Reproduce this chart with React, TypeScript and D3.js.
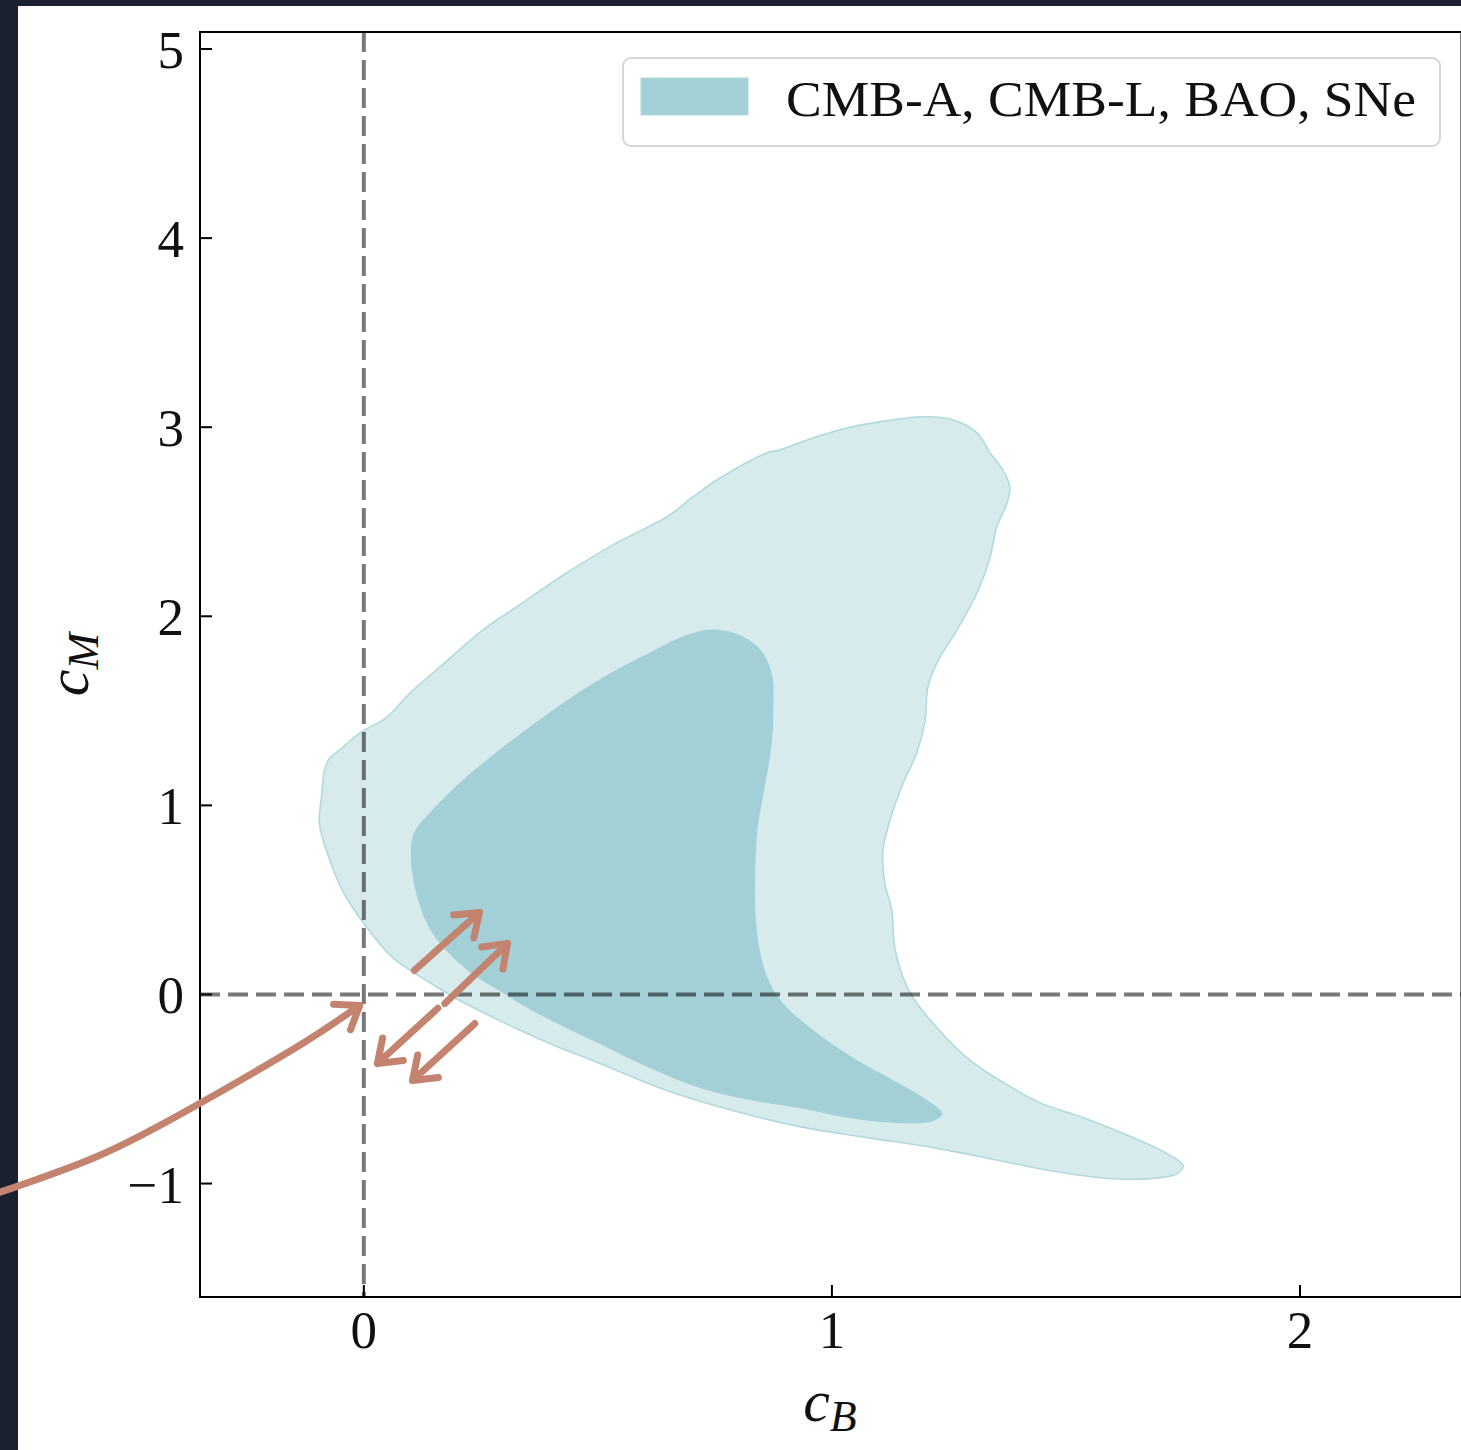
import React from "react";
import * as d3 from "d3";

// Axis setup
const xTicks = [0, 1, 2];
const yTicks = [-1, 0, 1, 2, 3, 4, 5];
const xDomain = [-0.35, 2.345];
const yDomain = [-1.6, 5.09];
const legendLabel = "CMB-A, CMB-L, BAO, SNe";

// Outer (95%) credible region boundary, c_B values
const outerCB = [
  0.889, 0.959, 1.032, 1.102, 1.194, 1.258, 1.31, 1.338, 1.365, 1.38, 1.374, 1.352,
  1.338, 1.31, 1.267, 1.224, 1.205, 1.199, 1.181, 1.152, 1.124, 1.109, 1.113, 1.128,
  1.134, 1.152, 1.173, 1.224, 1.288, 1.359, 1.444, 1.536, 1.643, 1.716, 1.75, 1.737,
  1.68, 1.573, 1.466, 1.359, 1.216, 1.075, 0.931, 0.788, 0.647, 0.504, 0.397, 0.29,
  0.205, 0.134, 0.061, 0.006, -0.046, -0.08, -0.095, -0.09, -0.084, -0.073, -0.052,
  -0.009, 0.049, 0.098, 0.162, 0.254, 0.326, 0.433, 0.54, 0.647, 0.703, 0.754, 0.861,
];
// Outer (95%) credible region boundary, c_M values
const outerCM = [
  2.88, 2.943, 2.996, 3.028, 3.055, 3.039, 2.97, 2.864, 2.774, 2.684, 2.599, 2.472,
  2.313, 2.123, 1.927, 1.752, 1.625, 1.45, 1.276, 1.117, 0.921, 0.762, 0.588, 0.445,
  0.249, 0.09, -0.016, -0.175, -0.334, -0.455, -0.572, -0.651, -0.757, -0.842, -0.905,
  -0.948, -0.974, -0.969, -0.932, -0.879, -0.81, -0.757, -0.699, -0.614, -0.508,
  -0.365, -0.259, -0.138, -0.032, 0.074, 0.196, 0.355, 0.551, 0.762, 0.905, 1.053,
  1.186, 1.249, 1.292, 1.382, 1.466, 1.593, 1.731, 1.927, 2.049, 2.229, 2.388, 2.525,
  2.631, 2.721, 2.864,
];

// Inner (68%) credible region boundary, c_B values
const innerCB = [
  0.745, 0.81, 0.852, 0.872, 0.874, 0.872, 0.863, 0.85, 0.839, 0.835, 0.839, 0.861,
  0.895, 0.968, 1.053, 1.13, 1.203, 1.235, 1.216, 1.145, 1.038, 0.931, 0.825, 0.718,
  0.611, 0.504, 0.433, 0.361, 0.29, 0.232, 0.177, 0.14, 0.113, 0.102, 0.108, 0.147,
  0.205, 0.29, 0.326, 0.397, 0.468, 0.54, 0.611, 0.681,
];
// Inner (68%) credible region boundary, c_M values
const innerCM = [
  1.927, 1.89, 1.805, 1.678, 1.556, 1.382, 1.202, 1.027, 0.852, 0.588, 0.323, 0.09,
  -0.048, -0.206, -0.349, -0.455, -0.561, -0.63, -0.667, -0.678, -0.651, -0.598,
  -0.556, -0.492, -0.386, -0.259, -0.175, -0.085, 0.021, 0.111, 0.233, 0.355, 0.535,
  0.709, 0.852, 0.974, 1.117, 1.292, 1.36, 1.488, 1.609, 1.715, 1.805, 1.89,
];

// Annotation arrows in (c_B, c_M) coordinates
const straightArrows: { from: [number, number]; to: [number, number] }[] = [
  { from: [0.108, 0.127], to: [0.247, 0.434] },
  { from: [0.173, -0.048], to: [0.307, 0.27] },
  { from: [0.158, -0.073], to: [0.029, -0.365] },
  { from: [0.237, -0.154], to: [0.104, -0.455] },
];
const curvedArrowCB = [-0.8, -0.565, -0.351, -0.138, -0.009];
const curvedArrowCM = [-1.065, -0.852, -0.577, -0.27, -0.058];

const W = 1461;
const H = 1450;
const plot = { left: 200, top: 32, right: 1461.5, bottom: 1297 };

const SERIF = "'Liberation Serif', 'DejaVu Serif', serif";
const OUTER_FILL = "#d7ebed";
const OUTER_EDGE = "#b2dadd";
const INNER_FILL = "#a2d0d6";
const ARROW = "#c4836f";

export default function App() {
  const x = d3.scaleLinear().domain(xDomain).range([plot.left, plot.right]);
  const y = d3.scaleLinear().domain(yDomain).range([plot.bottom, plot.top]);

  const closed = d3
    .line<[number, number]>()
    .x((d) => x(d[0]))
    .y((d) => y(d[1]))
    .curve(d3.curveCatmullRomClosed.alpha(0.5));

  const outerPts = outerCB.map((v, i) => [v, outerCM[i]] as [number, number]);
  const innerPts = innerCB.map((v, i) => [v, innerCM[i]] as [number, number]);

  const open = d3
    .line<[number, number]>()
    .x((d) => x(d[0]))
    .y((d) => y(d[1]))
    .curve(d3.curveNatural);
  const curvePts = curvedArrowCB.map((v, i) => [v, curvedArrowCM[i]] as [number, number]);

  // open chevron head at (tx, ty), pointing away from (px, py)
  const head = (px: number, py: number, tx: number, ty: number) => {
    const ang = Math.atan2(ty - py, tx - px) + Math.PI;
    const len = 26;
    const spread = (36 * Math.PI) / 180;
    const a1 = ang + spread;
    const a2 = ang - spread;
    return `M${tx + len * Math.cos(a1)},${ty + len * Math.sin(a1)}L${tx},${ty}L${
      tx + len * Math.cos(a2)
    },${ty + len * Math.sin(a2)}`;
  };

  const lastA = curvePts[curvePts.length - 2];
  const lastB = curvePts[curvePts.length - 1];

  return (
    <svg
      width={W}
      height={H}
      style={{ position: "absolute", left: 0, top: 0, display: "block" }}
      fontFamily={SERIF}
    >
      <rect x={0} y={0} width={W} height={H} fill="#1b2030" />
      <rect x={18} y={6} width={W - 18} height={H - 6} fill="#ffffff" />

      <defs>
        <clipPath id="plot-area">
          <rect x={plot.left} y={plot.top} width={plot.right - plot.left} height={plot.bottom - plot.top} />
        </clipPath>
      </defs>

      <g clipPath="url(#plot-area)">
        <path d={closed(outerPts) ?? ""} fill={OUTER_FILL} stroke={OUTER_EDGE} strokeWidth={1.6} />
        <path d={closed(innerPts) ?? ""} fill={INNER_FILL} stroke={INNER_FILL} strokeWidth={1} />

        {/* reference lines at c_B = 0 and c_M = 0 */}
        <line
          x1={x(0)}
          x2={x(0)}
          y1={plot.top}
          y2={plot.bottom}
          stroke="#000"
          strokeOpacity={0.53}
          strokeWidth={4}
          strokeDasharray="20 8"
        />
        <line
          x1={plot.left}
          x2={plot.right}
          y1={y(0)}
          y2={y(0)}
          stroke="#000"
          strokeOpacity={0.53}
          strokeWidth={4}
          strokeDasharray="20 8"
        />
      </g>

      {/* spines */}
      <rect
        x={plot.left}
        y={plot.top}
        width={plot.right - plot.left}
        height={plot.bottom - plot.top}
        fill="none"
        stroke="#000"
        strokeWidth={2}
      />

      {/* y ticks */}
      {yTicks.map((t) => (
        <g key={`y${t}`}>
          <line x1={plot.left} x2={plot.left + 12} y1={y(t)} y2={y(t)} stroke="#000" strokeWidth={2} />
          <text x={plot.left - 16} y={y(t) + 19} textAnchor="end" fontSize={53} fill="#111">
            {t < 0 ? `\u2212${Math.abs(t)}` : t}
          </text>
        </g>
      ))}

      {/* x ticks */}
      {xTicks.map((t) => (
        <g key={`x${t}`}>
          <line x1={x(t)} x2={x(t)} y1={plot.bottom} y2={plot.bottom - 12} stroke="#000" strokeWidth={2} />
          <text x={x(t)} y={plot.bottom + 51} textAnchor="middle" fontSize={53} fill="#111">
            {t}
          </text>
        </g>
      ))}

      {/* axis labels */}
      <text x={x(1) - 2} y={1421} textAnchor="middle" fontStyle="italic" fontSize={60} fill="#111">
        <tspan>c</tspan>
        <tspan dy={10} fontSize={44}>
          B
        </tspan>
      </text>
      <text
        transform={`translate(88, ${(plot.top + plot.bottom) / 2}) rotate(-90)`}
        textAnchor="middle"
        fontStyle="italic"
        fontSize={60}
        fill="#111"
      >
        <tspan>c</tspan>
        <tspan dy={10} fontSize={44}>
          M
        </tspan>
      </text>

      {/* legend */}
      <rect
        x={623}
        y={58}
        width={817}
        height={88}
        rx={8}
        fill="#ffffff"
        fillOpacity={0.8}
        stroke="#d6d6d6"
        strokeWidth={2}
      />
      <rect x={641} y={78} width={107} height={37} fill={INNER_FILL} stroke="#b2dadd" strokeWidth={1} />
      <text x={786} y={116} fontSize={51} fill="#111" textLength={630} lengthAdjust="spacingAndGlyphs">
        {legendLabel}
      </text>

      {/* annotation arrows */}
      <g fill="none" stroke={ARROW} strokeWidth={7} strokeLinecap="round" strokeLinejoin="round">
        <path d={open(curvePts) ?? ""} />
        <path d={head(x(lastA[0]), y(lastA[1]), x(lastB[0]), y(lastB[1]))} />
        {straightArrows.map((a, i) => {
          const x1 = x(a.from[0]);
          const y1 = y(a.from[1]);
          const x2 = x(a.to[0]);
          const y2 = y(a.to[1]);
          return (
            <g key={i}>
              <path d={`M${x1},${y1}L${x2},${y2}`} />
              <path d={head(x1, y1, x2, y2)} />
            </g>
          );
        })}
      </g>
    </svg>
  );
}
